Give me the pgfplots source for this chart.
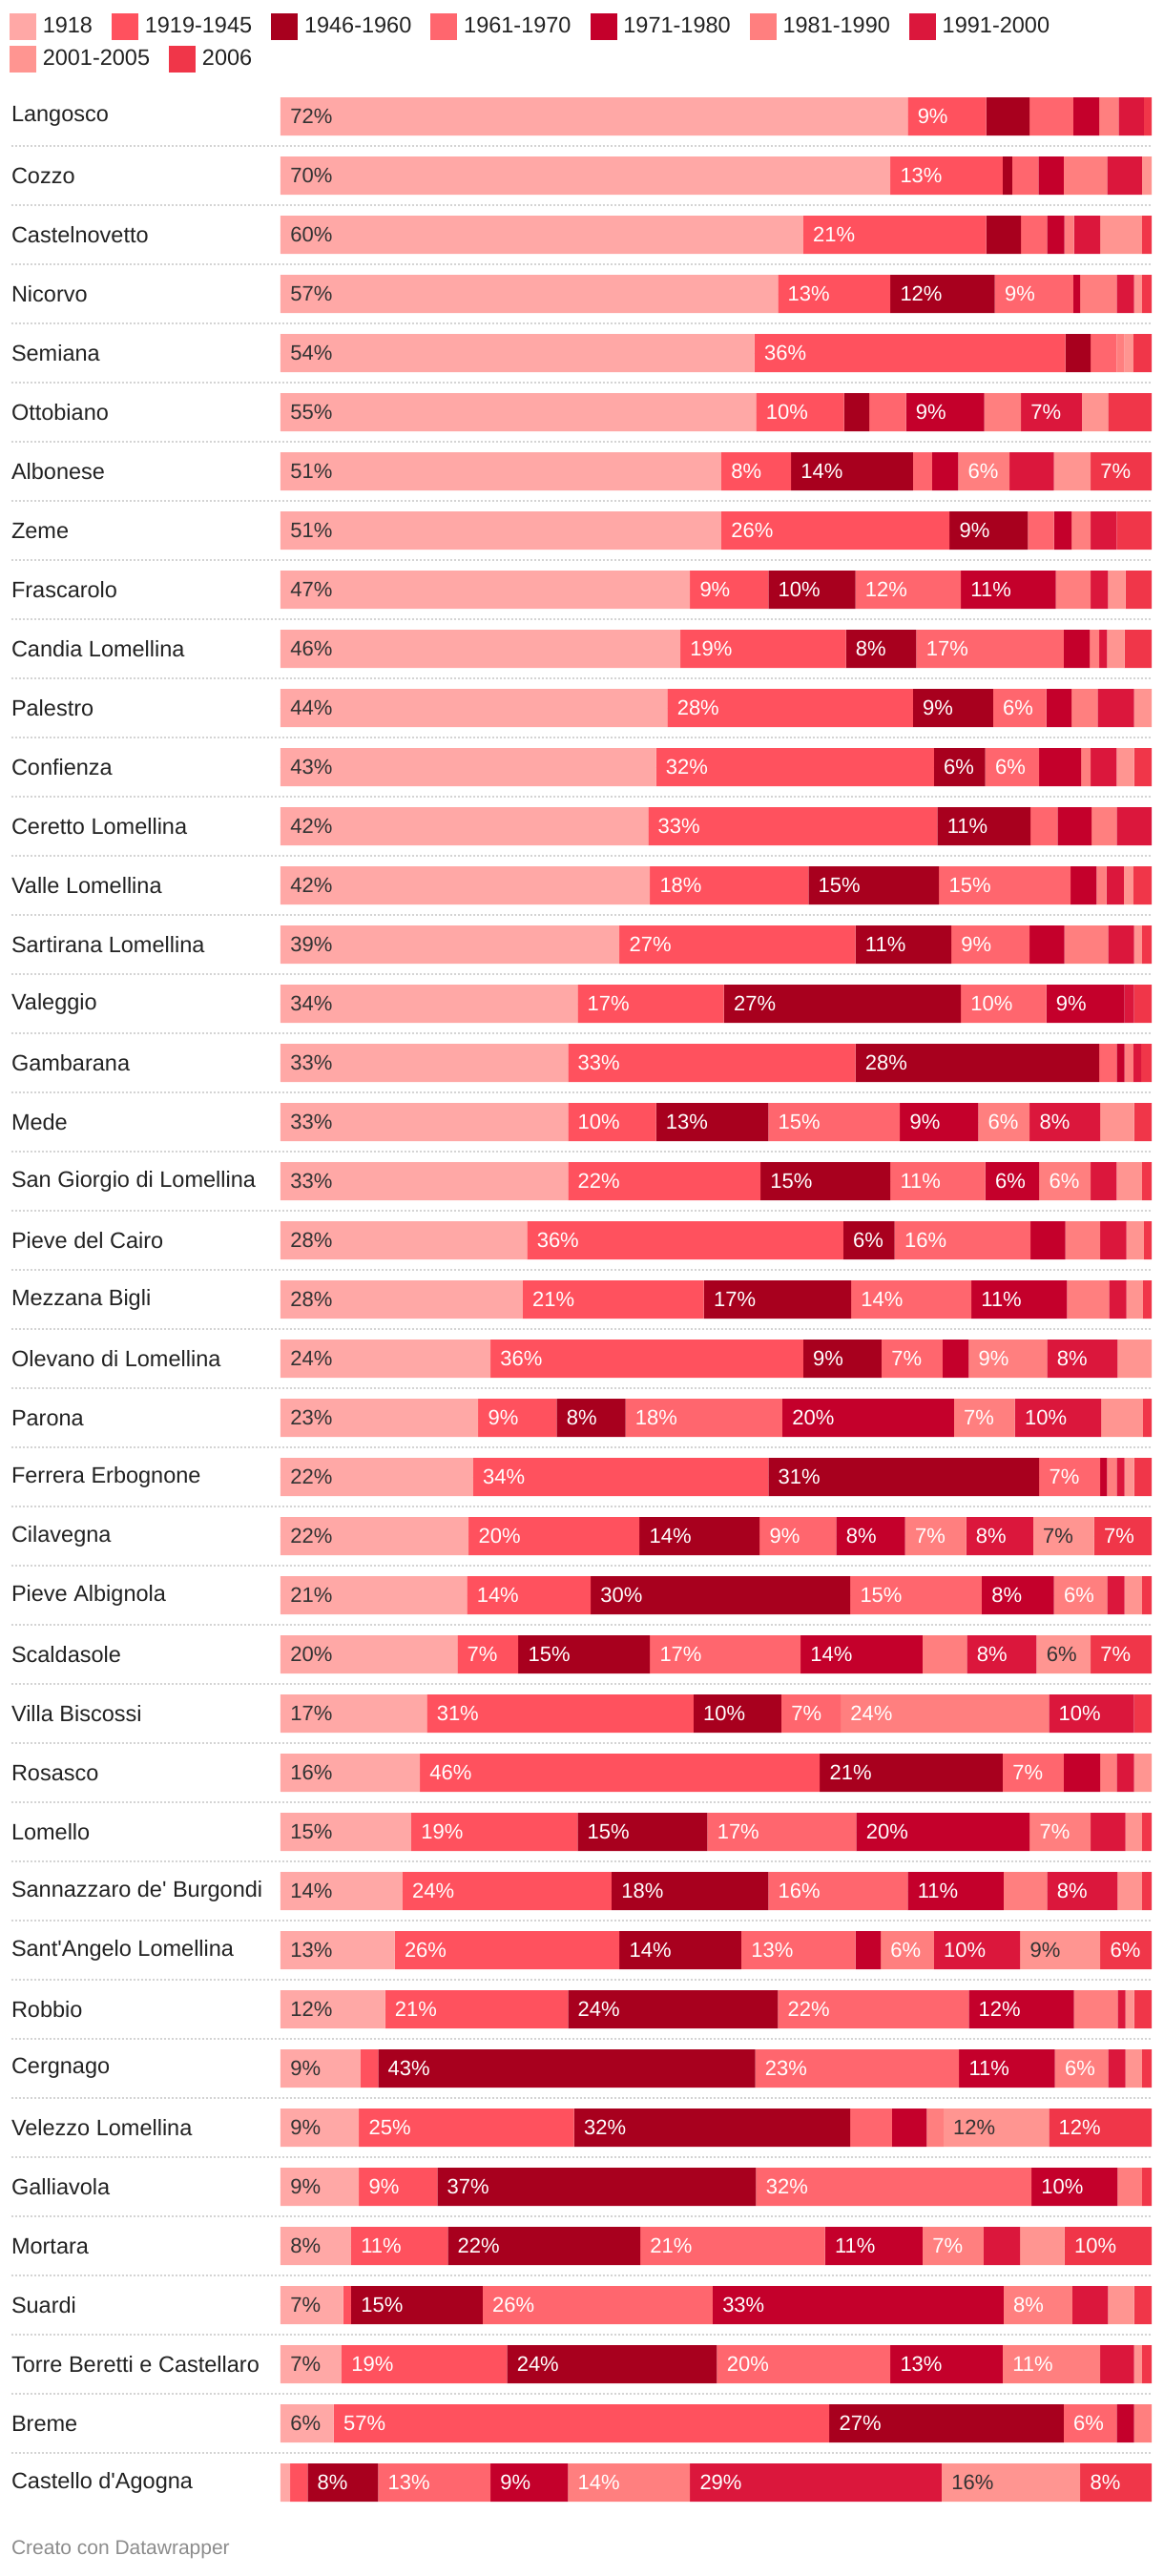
\documentclass[border=0pt]{standalone}
\usepackage{pgfplots}
\pgfplotsset{compat=1.18}
\usepackage{pgfplotstable}
\usepackage{fontspec}
\newfontfamily\dw{Liberation Sans}
\definecolor{cA}{HTML}{FFA8A6}
\definecolor{cB}{HTML}{FF515E}
\definecolor{cC}{HTML}{A8001E}
\definecolor{cD}{HTML}{FF666E}
\definecolor{cE}{HTML}{C4002B}
\definecolor{cF}{HTML}{FF7F7F}
\definecolor{cG}{HTML}{DB173C}
\definecolor{cH}{HTML}{FF9591}
\definecolor{cI}{HTML}{F03649}
\definecolor{txtdark}{HTML}{333333}
\definecolor{legtxt}{HTML}{222222}
\definecolor{gridc}{HTML}{D4D4D4}
\definecolor{footc}{HTML}{8C8C8C}

\pgfplotstableread{
y a b c d e f g h i
0 72 9 5.0 5.0 3.0 2.2 2.9 0 0.9
1 70.0 12.9 1.1 3.0 2.9 5.0 4.0 1.1 0
2 60.0 21.0 4.0 3.0 2.0 1.1 3.0 4.8 1.1
3 57.1 12.9 12.0 9.0 0.8 4.2 2.0 0.9 1.1
4 54.4 35.7 2.9 3.0 0 0.9 0 1.0 2.1
5 54.6 10.1 2.9 4.2 9.0 4.2 7.0 3.0 5.0
6 50.6 8.0 14.0 2.2 3.0 5.9 5.1 4.2 7.0
7 50.6 26.2 9.0 3.0 2.0 2.2 3.0 0 4.0
8 47.0 9.0 10.0 12.1 10.9 4.0 2.0 2.0 3.0
9 45.9 19.0 8.1 16.9 3.0 1.1 0.9 2.0 3.1
10 44.4 28.2 9.2 6.1 2.9 3.0 4.2 2.0 0
11 43.1 31.9 5.9 6.2 4.8 1.1 3.0 2.0 2.0
12 42.2 33.2 10.7 3.1 3.9 2.9 4.0 0 0
13 42.4 18.2 15.0 15.1 3.0 1.1 2.0 1.1 2.1
14 38.9 27.1 11.0 9.0 4.0 5.0 3.0 0.9 1.1
15 34.1 16.8 27.2 9.8 9.0 0 1.1 0 2.0
16 33.0 33.0 28.0 2.0 0.9 1.0 0.9 0 1.2
17 33.0 10.1 12.9 15.1 9.0 5.9 8.1 3.9 2.0
18 33.0 22.1 14.9 10.9 6.2 5.9 3.0 2.9 1.1
19 28.3 36.3 5.9 15.6 4.0 4.0 3.0 2.0 0.9
20 27.8 20.8 16.9 13.8 11.0 4.8 2.0 1.9 1.0
21 24.1 35.9 9.0 7.0 3.0 9.0 8.1 3.9 0
22 22.7 9.0 7.9 18.0 19.7 7.0 9.9 4.8 1.0
23 22.1 33.9 31.1 7.0 0.8 1.1 0.9 1.1 2.0
24 21.6 19.6 13.8 8.8 7.9 7.0 7.7 7.0 6.6
25 21.4 14.2 29.8 15.1 8.3 6.1 2.0 2.0 1.1
26 20.3 7.0 15.1 17.3 14.0 5.1 8.0 6.2 7.0
27 16.8 30.6 10.1 6.8 0 23.9 9.8 0 2.0
28 16.0 45.9 21.0 7.0 4.2 1.9 2.0 2.0 0
29 15.0 19.1 14.9 17.1 19.9 7.0 4.0 1.9 1.1
30 14.0 24.0 18.0 16.0 11.0 5.0 8.1 2.8 1.1
31 13.1 25.8 14.0 13.1 2.9 6.1 9.9 9.2 5.9
32 12.0 21.0 24.1 21.9 12.1 5.0 0.9 1.0 2.0
33 9.2 2.0 43.3 23.4 11.0 6.1 2.0 1.9 1.1
34 9.0 24.7 31.7 4.8 4.0 1.9 0 12.1 11.8
35 9.0 9.0 36.6 31.6 9.9 2.8 0 0 1.1
36 8.1 11.1 22.1 21.2 11.2 7.0 4.2 5.1 10.0
37 7.2 0.9 15.1 26.4 33.4 7.9 4.1 3.0 2.0
38 7.0 19.0 24.1 19.9 12.9 11.2 3.9 0.9 1.1
39 6.1 56.9 26.9 6.1 2.0 2.0 0 0 0
40 1.1 2.0 8.1 12.9 8.9 14.0 28.9 15.9 8.2
}\datatable

\pgfplotsset{
  seg/.style={fill=#1, draw=none},
  lab/.style={only marks, mark=square*, mark size=0pt, mark options={draw=none, fill=none},
    point meta=explicit,
    nodes near coords={\pgfmathprintnumber[fixed,precision=0,assume math mode=true]{\pgfplotspointmeta}\%},
    every node near coord/.append style={anchor=west, inner sep=0pt, xshift=5pt, text=#1, font=\dw\fontsize{11}{13}\selectfont}},
  base/.style={at={(5.8pt,-45.5pt)}, anchor=north west, x=4.565pt, y=31pt, y dir=reverse,
    xmin=-30.93, xmax=100, ymin=-0.5, ymax=40.5, enlargelimits=false, clip=false},
  legstyle/.style={legend style={draw=none, fill=none, inner sep=0pt, outer sep=0pt, anchor=north west,
      font=\dw\fontsize{11.75}{14}\selectfont, text=legtxt, nodes={inner sep=0pt, anchor=west},
      /tikz/every odd column/.append style={column sep=3.4pt},
      /tikz/every even column/.append style={column sep=10pt}},
    legend cell align=left,
    legend image code/.code={\fill[##1] (0pt,-7pt) rectangle (14pt,7pt);}}
}

\begin{document}
\begin{tikzpicture}
\useasboundingbox (0,0) rectangle (610pt,-1350pt);
\begin{axis}[base, xbar stacked, bar width=20pt,
  axis line style={draw=none}, major tick length=0pt, xtick=\empty,
  ytick={0,...,40},
  yticklabels={Langosco, Cozzo, Castelnovetto, Nicorvo, Semiana, Ottobiano, Albonese, Zeme, Frascarolo, Candia Lomellina, Palestro, Confienza, Ceretto Lomellina, Valle Lomellina, Sartirana Lomellina, Valeggio, Gambarana, Mede, San Giorgio di Lomellina, Pieve del Cairo, Mezzana Bigli, Olevano di Lomellina, Parona, Ferrera Erbognone, Cilavegna, Pieve Albignola, Scaldasole, Villa Biscossi, Rosasco, Lomello, Sannazzaro de' Burgondi, Sant'Angelo Lomellina, Robbio, Cergnago, Velezzo Lomellina, Galliavola, Mortara, Suardi, Torre Beretti e Castellaro, Breme, Castello d'Agogna},
  yticklabel style={anchor=west, inner sep=0pt, font=\dw\fontsize{11.75}{14}\selectfont, text=legtxt},
  extra y ticks={0.5,1.5,...,39.5}, extra y tick labels={},
  extra y tick style={grid=major, major grid style={gridc, line width=1pt, dash pattern=on 1pt off 1pt}},
  legstyle, legend columns=7,
  legend style={at={(axis cs:-31.11,-1.742)}}]
\addplot[seg=cA] table[x=a, y=y] \datatable; \addlegendentry{1918}
\addplot[seg=cB] table[x=b, y=y] \datatable; \addlegendentry{1919-1945}
\addplot[seg=cC] table[x=c, y=y] \datatable; \addlegendentry{1946-1960}
\addplot[seg=cD] table[x=d, y=y] \datatable; \addlegendentry{1961-1970}
\addplot[seg=cE] table[x=e, y=y] \datatable; \addlegendentry{1971-1980}
\addplot[seg=cF] table[x=f, y=y] \datatable; \addlegendentry{1981-1990}
\addplot[seg=cG] table[x=g, y=y] \datatable; \addlegendentry{1991-2000}
\addplot[seg=cH] table[x=h, y=y] \datatable;
\addplot[seg=cI] table[x=i, y=y] \datatable;
\end{axis}
\begin{axis}[base, hide axis]
\addplot[lab=txtdark, restrict expr to domain={\thisrow{a}}{5.5:200}] table[x expr=0, y=y, meta=a] \datatable;
\addplot[lab=white, restrict expr to domain={\thisrow{b}}{5.5:200}] table[x expr=\thisrow{a}, y=y, meta=b] \datatable;
\addplot[lab=white, restrict expr to domain={\thisrow{c}}{5.5:200}] table[x expr=\thisrow{a}+\thisrow{b}, y=y, meta=c] \datatable;
\addplot[lab=white, restrict expr to domain={\thisrow{d}}{5.5:200}] table[x expr=\thisrow{a}+\thisrow{b}+\thisrow{c}, y=y, meta=d] \datatable;
\addplot[lab=white, restrict expr to domain={\thisrow{e}}{5.5:200}] table[x expr=\thisrow{a}+\thisrow{b}+\thisrow{c}+\thisrow{d}, y=y, meta=e] \datatable;
\addplot[lab=white, restrict expr to domain={\thisrow{f}}{5.5:200}] table[x expr=\thisrow{a}+\thisrow{b}+\thisrow{c}+\thisrow{d}+\thisrow{e}, y=y, meta=f] \datatable;
\addplot[lab=white, restrict expr to domain={\thisrow{g}}{5.5:200}] table[x expr=\thisrow{a}+\thisrow{b}+\thisrow{c}+\thisrow{d}+\thisrow{e}+\thisrow{f}, y=y, meta=g] \datatable;
\addplot[lab=txtdark, restrict expr to domain={\thisrow{h}}{5.5:200}] table[x expr=\thisrow{a}+\thisrow{b}+\thisrow{c}+\thisrow{d}+\thisrow{e}+\thisrow{f}+\thisrow{g}, y=y, meta=h] \datatable;
\addplot[lab=white, restrict expr to domain={\thisrow{i}}{5.5:200}] table[x expr=\thisrow{a}+\thisrow{b}+\thisrow{c}+\thisrow{d}+\thisrow{e}+\thisrow{f}+\thisrow{g}+\thisrow{h}, y=y, meta=i] \datatable;
\end{axis}
\begin{axis}[base, hide axis, legstyle, legend columns=2,
  legend style={at={(axis cs:-31.11,-1.194)}}]
\addlegendimage{fill=cH, draw=none}\addlegendentry{2001-2005}
\addlegendimage{fill=cI, draw=none}\addlegendentry{2006}
\end{axis}
\node[anchor=west, inner sep=0pt, font=\dw\fontsize{10.5}{12}\selectfont, text=footc] at (5.8pt,-1336pt) {Creato con Datawrapper};
\end{tikzpicture}
\end{document}
